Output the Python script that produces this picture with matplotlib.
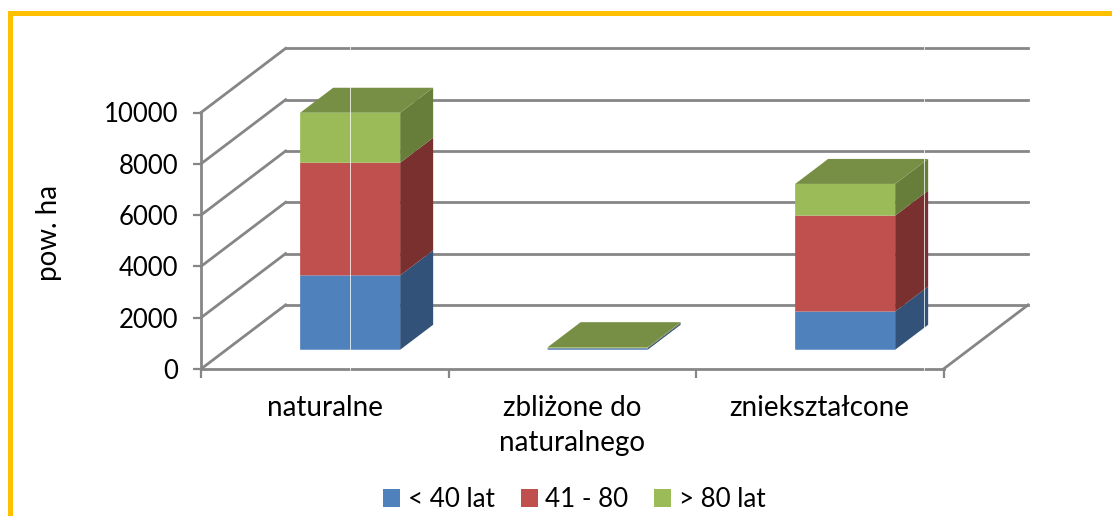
"""
Stacked oblique "3D" column chart: area by age class.
"""
import numpy as np
import matplotlib
matplotlib.use('Agg')
import matplotlib.pyplot as plt
from matplotlib.patches import Polygon, Rectangle

plt.rcParams['font.family'] = ['Lato', 'DejaVu Sans']

categories = ['naturalne', 'zbliżone do\nnaturalnego', 'zniekształcone']
series_names = ['< 40 lat', '41 - 80', '> 80 lat']
young = [2900, 60, 1490]
middle = [4390, 5, 3740]
old = [1950, 35, 1235]
yticks = [0, 2000, 4000, 6000, 8000, 10000]

front_colors = ['#4F81BD', '#C0504D', '#9BBB59']
side_colors = ['#32527A', '#7A302E', '#677E3A']
top_color = '#778F45'
grid_color = '#868686'

# size of the floor, in data units
depth_x = 0.342
depth_y = 2500
bar_width = 0.404
bar_d0 = 0.30
bar_d1 = 0.69


def proj(x, v, d):
    return x + d * depth_x, v + d * depth_y


W, H = 1112, 516
fig = plt.figure(figsize=(W / 100, H / 100), dpi=100)
ax = fig.add_axes([201 / W, 1 - 369 / H, 742.5 / W, 256.5 / H])
ax.set_xlim(0, 3)
ax.set_ylim(0, 10000)
ax.patch.set_visible(False)

for s in ['top', 'right']:
    ax.spines[s].set_visible(False)
for s in ['left', 'bottom']:
    ax.spines[s].set_color(grid_color)
    ax.spines[s].set_linewidth(2.0)

ax.set_yticks(yticks)
ax.set_xticks([0, 1, 2, 3])
ax.set_xticklabels([])
ax.tick_params(axis='y', length=6, width=1.6, color=grid_color, labelsize=18.5, pad=10.5)
ax.tick_params(axis='x', length=6.5, width=1.6, color=grid_color)
ax.set_ylabel('pow. ha', fontsize=20)
ax.yaxis.set_label_coords(-139 / 742.5, 0.53)

# walls: diagonal on the left, horizontal at the back
for v in yticks:
    bx, by = proj(0, v, 1)
    ax.plot([0, bx], [v, by], color=grid_color, lw=2.0, clip_on=False, zorder=1)
    rx, ry = proj(3, v, 1)
    ax.plot([bx, rx], [by, ry], color=grid_color, lw=2.0, clip_on=False, zorder=1)
rx, ry = proj(3, 0, 1)
ax.plot([3, rx], [0, ry], color=grid_color, lw=2.0, clip_on=False, zorder=1)

# columns
stacks = [young, middle, old]
for i in range(len(categories)):
    x0 = i + 0.5 - bar_width / 2
    x1 = x0 + bar_width
    base = 0
    for j in range(3):
        val = stacks[j][i]
        fx, fy = proj(i + 0.5, base, bar_d0)
        # no snapping, or the thin middle column shows a fat red stripe
        ax.bar(fx, val, bar_width, bottom=fy, color=front_colors[j], linewidth=0,
               clip_on=False, zorder=3, snap=False)
        side = [proj(x1, base, bar_d0), proj(x1, base, bar_d1),
                proj(x1, base + val, bar_d1), proj(x1, base + val, bar_d0)]
        ax.add_patch(Polygon(side, closed=True, fc=side_colors[j], ec='none',
                             clip_on=False, zorder=2))
        base += val
    roof = [proj(x0, base, bar_d0), proj(x1, base, bar_d0),
            proj(x1, base, bar_d1), proj(x0, base, bar_d1)]
    ax.add_patch(Polygon(roof, closed=True, fc=top_color, ec='none', clip_on=False, zorder=2))

# category labels
for i, c in enumerate(categories):
    ax.annotate(c, (i + 0.5, 0), xytext=(0, -19), textcoords='offset points',
                ha='center', va='top', fontsize=20, linespacing=1.4)

# legend
handles = [Rectangle((0, 0), 1, 1, fc=c, ec='none') for c in front_colors]
fig.legend(handles, series_names, loc='center', bbox_to_anchor=(574.5 / W, 1 - 499.5 / H),
           ncol=3, frameon=False, fontsize=18.7, handlelength=0.65, handleheight=0.65,
           handletextpad=0.3, columnspacing=1.0)

# outer frame (bottom and right sides are cut off in the original)
fig.add_artist(Rectangle((8 / W, 1 - 16 / H), (W - 8) / W, 5 / H, transform=fig.transFigure,
                         fc='#FFC000', ec='none'))
fig.add_artist(Rectangle((8 / W, 0), 4.5 / W, 1 - 11 / H, transform=fig.transFigure,
                         fc='#FFC000', ec='none'))

# thin pale seams running through the scan, above the columns
for sx in [349, 923]:
    ax.axvline((sx + 0.5 - 201) / 247.5, ymin=-3 / 256.5, ymax=354 / 256.5, color='white',
               lw=0.72, alpha=0.75, clip_on=False, zorder=5)

fig.savefig('out.png', dpi=100)
